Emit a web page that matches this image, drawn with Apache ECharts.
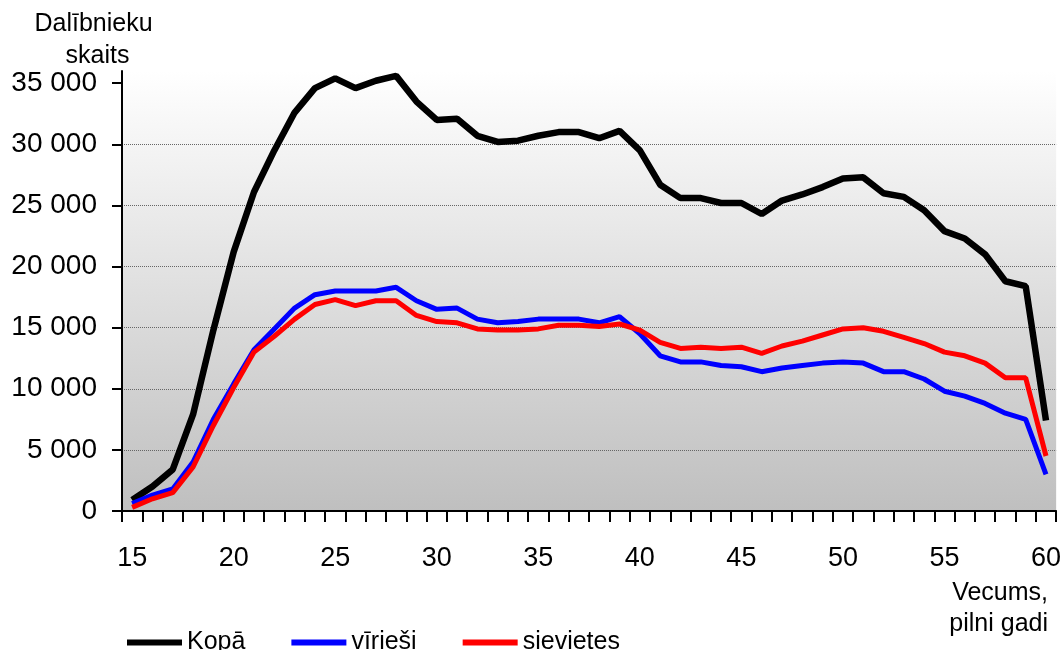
<!DOCTYPE html>
<html>
<head>
<meta charset="utf-8">
<script src="https://cdn.jsdelivr.net/npm/echarts@6/dist/echarts.min.js"></script>
<style>
html,body{margin:0;padding:0;background:#fff;}
#chart{width:1064px;height:650px;}
</style>
</head>
<body>
<div id="chart"></div>
<script>
const ages = [];
for (let a = 15; a <= 60; a++) ages.push(String(a));

const kopa = [900, 2000, 3400, 7900, 14800, 21200, 26100, 29500, 32600, 34600,
  35400, 34600, 35200, 35600, 33500, 32000, 32100, 30700, 30200, 30300,
  30700, 31000, 31000, 30500, 31100, 29500, 26700, 25600, 25600, 25200,
  25200, 24300, 25400, 25900, 26500, 27200, 27300, 26000, 25700, 24600,
  22900, 22300, 21000, 18800, 18400, 7400];

const virieshi = [600, 1300, 1800, 4000, 7500, 10400, 13200, 14900, 16600, 17700,
  18000, 18000, 18000, 18300, 17200, 16500, 16600, 15700, 15400, 15500,
  15700, 15700, 15700, 15400, 15900, 14500, 12700, 12200, 12200, 11900,
  11800, 11400, 11700, 11900, 12100, 12200, 12100, 11400, 11400, 10800,
  9800, 9400, 8800, 8000, 7500, 3000];

const sievietes = [300, 1000, 1500, 3600, 7000, 10100, 13000, 14300, 15700, 16900,
  17300, 16800, 17200, 17200, 16000, 15500, 15400, 14900, 14800, 14800,
  14900, 15200, 15200, 15100, 15300, 14800, 13800, 13300, 13400, 13300,
  13400, 12900, 13500, 13900, 14400, 14900, 15000, 14700, 14200, 13700,
  13000, 12700, 12100, 10900, 10900, 4500];

const yTicks = [0, 5000, 10000, 15000, 20000, 25000, 30000, 35000];
const seriesNames = ['Kopā', 'vīrieši', 'sievietes'];

const chart = echarts.init(document.getElementById('chart'));
const font = 'Liberation Sans, Arial, sans-serif';
function fmt(v) { return String(v).replace(/\B(?=(\d{3})+(?!\d))/g, ' '); }

chart.setOption({
  animation: false,
  backgroundColor: '#ffffff',
  textStyle: { fontFamily: font, color: '#000' },
  grid: {
    left: 122, right: 7, top: 71, bottom: 139,
    show: true, borderWidth: 0,
    backgroundColor: {
      type: 'linear', x: 0, y: 0, x2: 0, y2: 1,
      colorStops: [{ offset: 0, color: '#ffffff' }, { offset: 1, color: '#bfbfbf' }]
    }
  },
  xAxis: {
    type: 'category',
    data: ages,
    boundaryGap: true,
    axisLine: { lineStyle: { color: '#000', width: 2 } },
    axisTick: { show: true, interval: 0, length: 11, lineStyle: { color: '#000', width: 2 } },
    axisLabel: { interval: 4, fontSize: 27, color: '#000', margin: 34, fontFamily: font },
    splitLine: { show: false }
  },
  yAxis: {
    type: 'value',
    min: 0, max: 36000, interval: 5000,
    axisLine: { show: true, lineStyle: { color: '#000', width: 2 } },
    axisTick: { show: true, length: 10, customValues: yTicks, lineStyle: { color: '#000', width: 2 } },
    axisLabel: { fontSize: 28, color: '#000', margin: 25, padding: [5, 0, 0, 0], customValues: yTicks, formatter: fmt, fontFamily: font },
    splitLine: { show: true, showMaxLine: false, lineStyle: { color: '#666', type: 'dotted', width: 1 } }
  },
  legend: {
    left: 122, top: 625,
    icon: 'rect', itemWidth: 55, itemHeight: 6, itemGap: 46,
    textStyle: { fontSize: 25, color: '#000', fontFamily: font },
    data: seriesNames
  },
  graphic: [
    { type: 'text', style: { text: 'Dalībnieku', x: 93.5, y: 24.5, textAlign: 'center', textVerticalAlign: 'middle', fontSize: 25, fontFamily: font, fill: '#000' } },
    { type: 'text', style: { text: 'skaits', x: 97.5, y: 56.5, textAlign: 'center', textVerticalAlign: 'middle', fontSize: 25, fontFamily: font, fill: '#000' } },
    { type: 'text', style: { text: 'Vecums,', x: 1048, y: 593, textAlign: 'right', textVerticalAlign: 'middle', fontSize: 25, fontFamily: font, fill: '#000' } },
    { type: 'text', style: { text: 'pilni gadi', x: 1048, y: 624.5, textAlign: 'right', textVerticalAlign: 'middle', fontSize: 25, fontFamily: font, fill: '#000' } }
  ],
  series: [
    { name: seriesNames[0], type: 'line', data: kopa, showSymbol: false, symbol: 'none',
      color: '#000000', lineStyle: { color: '#000000', width: 6.5 } },
    { name: seriesNames[1], type: 'line', data: virieshi, showSymbol: false, symbol: 'none',
      color: '#0000ff', lineStyle: { color: '#0000ff', width: 5 } },
    { name: seriesNames[2], type: 'line', data: sievietes, showSymbol: false, symbol: 'none',
      color: '#ff0000', lineStyle: { color: '#ff0000', width: 5 } }
  ]
});
</script>
</body>
</html>
